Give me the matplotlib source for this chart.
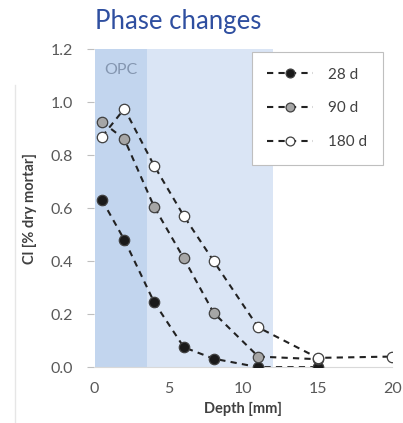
import numpy as np
import matplotlib.pyplot as plt
from matplotlib.lines import Line2D

plt.rcParams['font.family'] = ['Lato', 'DejaVu Sans']

# data
depth_28 = [0.5, 2, 4, 6, 8, 11, 15]
cl_28 = [0.63, 0.48, 0.245, 0.075, 0.032, 0.0, 0.0]

depth_90 = [0.5, 2, 4, 6, 8, 11, 15]
cl_90 = [0.925, 0.86, 0.605, 0.41, 0.205, 0.04, 0.03]

depth_180 = [0.5, 2, 4, 6, 8, 11, 15, 20]
cl_180 = [0.87, 0.975, 0.76, 0.57, 0.40, 0.15, 0.035, 0.04]

opc_zone = (0, 3.5)
light_zone = (3.5, 12)

fig = plt.figure(figsize=(4.03, 4.23), dpi=100)
ax = fig.add_axes([0.233, 0.132, 0.740, 0.752])

ax.axvspan(*opc_zone, color='#c2d5ee', lw=0, zorder=0)
ax.axvspan(*light_zone, color='#dae5f5', lw=0, zorder=0)
ax.text(1.75, 1.12, 'OPC', color='#8496b0', fontsize=11.5, ha='center', va='center')

kw = dict(ls=(0, (3, 2.5)), lw=1.5, color='#222222', ms=7.5, mew=0.9, mec='#404040', zorder=3)
ax.plot(depth_28, cl_28, marker='o', mfc='#1a1a1a', label='28 d', **kw)
ax.plot(depth_90, cl_90, marker='o', mfc='#a6a6a6', label='90 d', **kw)
ax.plot(depth_180, cl_180, marker='o', mfc='white', label='180 d', **kw)

ax.set_xlim(-0.05, 20)
ax.set_ylim(0, 1.2)
ax.set_xticks([0, 5, 10, 15, 20])
ax.set_yticks(np.arange(0, 1.21, 0.2))
ax.yaxis.set_major_formatter(plt.FormatStrFormatter('%.1f'))
ax.tick_params(colors='#595959', labelsize=11.5, length=5, width=0.8, pad=10)
ax.tick_params(axis='y', colors='#bfbfbf', labelcolor='#595959')
ax.tick_params(axis='x', length=0, pad=11)
for s in ['top', 'right', 'left']:
    ax.spines[s].set_visible(False)
ax.spines['bottom'].set_color('#d9d9d9')

ax.set_xlabel('Depth [mm]', fontsize=10.5, fontweight='bold', color='#404040', labelpad=4)
ax.set_ylabel('Cl [% dry mortar]', fontsize=10.5, fontweight='bold', color='#404040', labelpad=10)

leg = ax.legend(loc='upper right', bbox_to_anchor=(0.968, 0.99), fontsize=11,
                labelcolor='#404040', handlelength=3.0, labelspacing=1.3, markerscale=0.85,
                borderpad=1.0, handletextpad=1.0, borderaxespad=0,
                fancybox=False, framealpha=1, edgecolor='#bfbfbf')
leg.get_frame().set_linewidth(0.8)

fig.text(0.235, 0.948, 'Phase changes', fontsize=18.5, color='#2f4fa0', ha='left', va='center')
fig.add_artist(Line2D([0.037, 0.037], [0.0, 0.80], color='#e6e6e6', lw=1))

fig.savefig('out.png', dpi=100)
